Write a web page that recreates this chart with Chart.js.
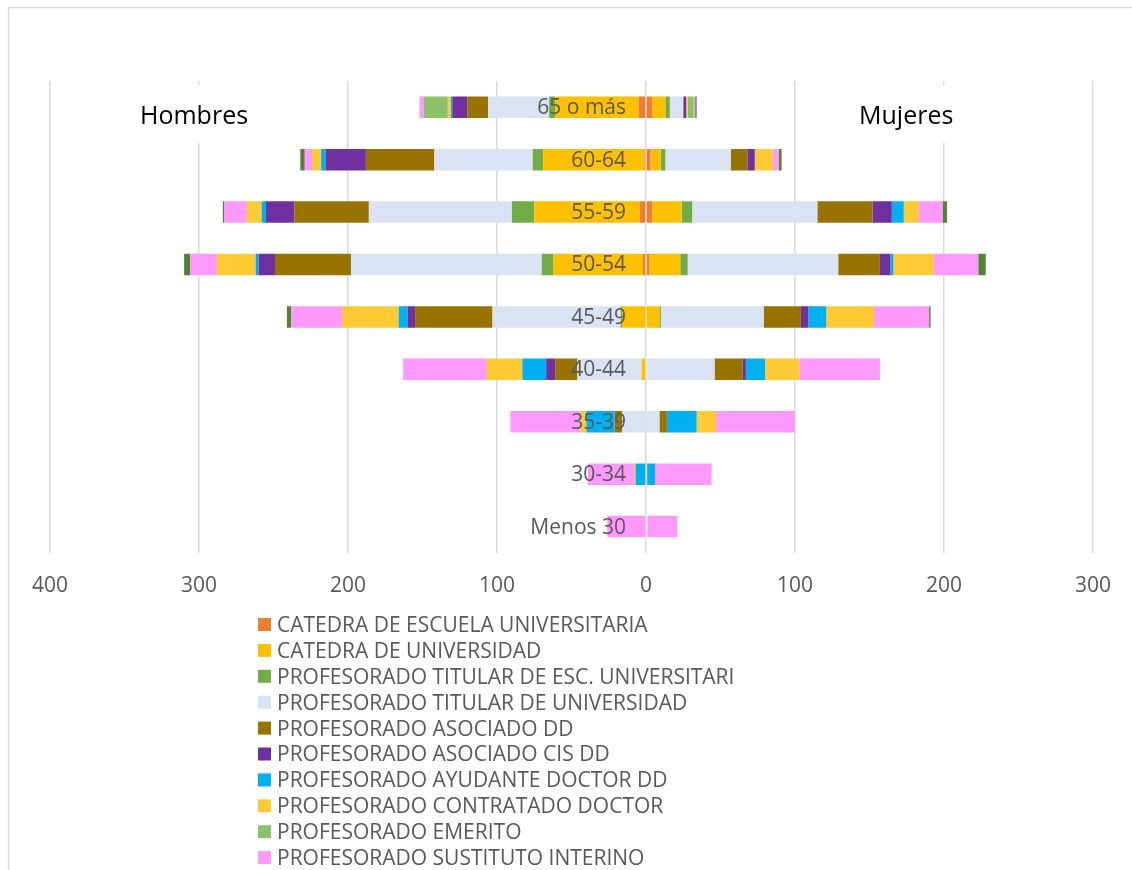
<!DOCTYPE html>
<html lang="es">
<head>
<meta charset="utf-8">
<title>Pirámide del profesorado</title>
<script src="https://cdn.jsdelivr.net/npm/chart.js@4.4.1/dist/chart.umd.min.js"></script>
<style>
    html, body { margin: 0; padding: 0; background: #fff; }
    #wrap { position: relative; width: 1132px; height: 870px; }
</style>
</head>
<body>
<div id="wrap"><canvas id="pyramidChart"></canvas></div>
<script>
// Age groups, top to bottom
const ageGroups = ['65 o más', '60-64', '55-59', '50-54', '45-49', '40-44', '35-39', '30-34', 'Menos 30'];

// Series names (last one is cut off from the legend in the original)
const seriesNames = [
    'CATEDRA DE ESCUELA UNIVERSITARIA',
    'CATEDRA DE UNIVERSIDAD',
    'PROFESORADO TITULAR DE ESC. UNIVERSITARI',
    'PROFESORADO TITULAR DE UNIVERSIDAD',
    'PROFESORADO ASOCIADO DD',
    'PROFESORADO ASOCIADO CIS DD',
    'PROFESORADO AYUDANTE DOCTOR DD',
    'PROFESORADO CONTRATADO DOCTOR',
    'PROFESORADO EMERITO',
    'PROFESORADO SUSTITUTO INTERINO',
    'PROFESORADO VISITANTE'
];
const seriesColors = ['#ED7D31', '#FFC000', '#70AD47', '#DAE3F3', '#997300', '#7030A0', '#00B0F0', '#FFCA33', '#8CC168', '#FF99FF', '#548235'];

// Hombres
const hCatedraEU    = [5, 1, 4, 2, 0, 0, 0, 0, 0];
const hCatedraU     = [56, 68, 71, 60, 16, 3, 0, 0, 0];
const hTitularEU    = [4, 7, 15, 8, 1, 0, 0, 0, 0];
const hTitularU     = [41, 66, 96, 128, 86, 43, 16, 0, 0];
const hAsociado     = [14, 46, 50, 51, 52, 15, 5, 0, 0];
const hAsociadoCIS  = [10, 27, 19, 11, 5, 6, 0, 0, 0];
const hAyudante     = [1, 3, 3, 2, 6, 16, 19, 7, 0];
const hContratado   = [2, 6, 10, 26, 38, 24, 4, 1, 0];
const hEmerito      = [16, 0, 0, 0, 0, 0, 0, 0, 0];
const hSustituto    = [3, 5, 15, 18, 34, 56, 47, 31, 26];
const hVisitante    = [0, 3, 1, 4, 3, 0, 0, 0, 0];

// Mujeres
const mCatedraEU    = [4, 3, 4, 2, 0, 0, 0, 0, 0];
const mCatedraU     = [9, 7, 20, 21, 9, 0, 0, 0, 0];
const mTitularEU    = [3, 3, 7, 5, 1, 0, 0, 0, 0];
const mTitularU     = [9, 44, 84, 101, 69, 46, 9, 0, 1];
const mAsociado     = [0, 11, 37, 28, 25, 19, 5, 1, 0];
const mAsociadoCIS  = [2, 5, 13, 7, 5, 2, 0, 0, 0];
const mAyudante     = [0, 0, 8, 2, 12, 13, 20, 5, 0];
const mContratado   = [1, 12, 10, 27, 32, 23, 13, 0, 0];
const mEmerito      = [4, 0, 0, 0, 0, 0, 0, 0, 0];
const mSustituto    = [1, 4, 16, 30, 37, 54, 53, 38, 20];
const mVisitante    = [1, 2, 3, 5, 1, 0, 0, 0, 0];

const hombres = [hCatedraEU, hCatedraU, hTitularEU, hTitularU, hAsociado, hAsociadoCIS, hAyudante, hContratado, hEmerito, hSustituto, hVisitante];
const mujeres = [mCatedraEU, mCatedraU, mTitularEU, mTitularU, mAsociado, mAsociadoCIS, mAyudante, mContratado, mEmerito, mSustituto, mVisitante];

const FONT = "'Open Sans', 'Liberation Sans', sans-serif";
const GREY_TEXT = '#595959';
const LEGEND_COUNT = 10;

(function() {
    'use strict';

    // Build one dataset per series and sex, men on the negative side
    const datasets = [];
    seriesNames.forEach(function(name, i) {
        datasets.push({
            label: name,
            data: hombres[i].map(v => -v),
            backgroundColor: seriesColors[i],
            stack: 'pyramid',
            borderWidth: 0
        });
        datasets.push({
            label: name,
            data: mujeres[i],
            backgroundColor: seriesColors[i],
            stack: 'pyramid',
            borderWidth: 0
        });
    });

    // Age labels drawn next to the zero line, over the bars
    const ageLabels = {
        id: 'ageLabels',
        afterDatasetsDraw(chart) {
            const ctx = chart.ctx;
            const x0 = chart.scales.x.getPixelForValue(0);
            const yScale = chart.scales.y;
            ctx.save();
            ctx.font = '21px ' + FONT;
            ctx.fillStyle = GREY_TEXT;
            ctx.textAlign = 'right';
            ctx.textBaseline = 'middle';
            ageGroups.forEach(function(label, i) {
                ctx.fillText(label, x0 - 20, yScale.getPixelForValue(i) + 1);
            });
            ctx.restore();
        }
    };

    // Frame, "Hombres"/"Mujeres" text boxes and the vertical legend
    const extras = {
        id: 'extras',
        afterDraw(chart) {
            const ctx = chart.ctx;
            ctx.save();

            ctx.strokeStyle = '#d9d9d9';
            ctx.lineWidth = 1.5;
            ctx.beginPath();
            ctx.moveTo(8, 7.5);
            ctx.lineTo(1132, 7.5);
            ctx.moveTo(8.5, 7);
            ctx.lineTo(8.5, 870);
            ctx.stroke();

            ctx.fillStyle = '#ffffff';
            ctx.fillRect(125, 85, 140, 58);
            ctx.fillRect(845, 85, 130, 58);

            ctx.fillStyle = '#000000';
            ctx.font = '25px ' + FONT;
            ctx.textAlign = 'left';
            ctx.textBaseline = 'alphabetic';
            ctx.fillText('Hombres', 140, 124);
            ctx.fillText('Mujeres', 859, 124);

            ctx.font = '21px ' + FONT;
            ctx.textBaseline = 'middle';
            for (let i = 0; i < LEGEND_COUNT; i++) {
                const y = 625 + i * 25.9;
                ctx.fillStyle = seriesColors[i];
                ctx.fillRect(258, y - 7, 13, 13);
                ctx.fillStyle = GREY_TEXT;
                ctx.fillText(seriesNames[i], 277, y + 1);
            }
            ctx.restore();
        }
    };

    const ctx = document.getElementById('pyramidChart');
    new Chart(ctx, {
        type: 'bar',
        data: {
            labels: ageGroups,
            datasets: datasets
        },
        options: {
            indexAxis: 'y',
            responsive: true,
            maintainAspectRatio: false,
            animation: false,
            events: [],
            layout: {
                padding: { left: 50, right: 35, top: 81, bottom: 250 }
            },
            datasets: {
                bar: { barPercentage: 0.41, categoryPercentage: 1 }
            },
            scales: {
                x: {
                    stacked: true,
                    min: -400,
                    max: 300,
                    border: { display: false },
                    grid: { color: '#d9d9d9', lineWidth: 1.5, drawTicks: false },
                    ticks: {
                        stepSize: 100,
                        padding: 21,
                        color: GREY_TEXT,
                        font: { family: FONT, size: 21 },
                        callback: v => Math.abs(v)
                    }
                },
                y: {
                    stacked: true,
                    display: false
                }
            },
            plugins: {
                legend: { display: false },
                tooltip: { enabled: false }
            }
        },
        plugins: [ageLabels, extras]
    });
})();
</script>
</body>
</html>
